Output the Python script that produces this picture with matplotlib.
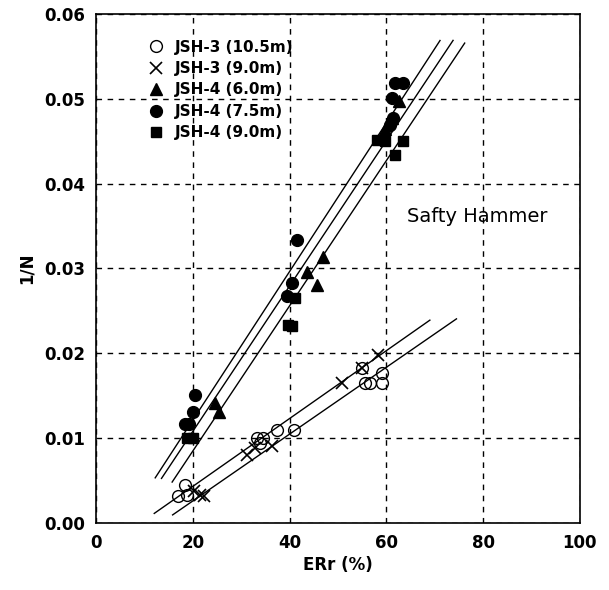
import matplotlib
matplotlib.use('Agg')
import matplotlib.pyplot as plt
import numpy as np

# data
jsh3_105_x = [17.0, 18.4, 18.8, 33.2, 34.4, 33.8, 37.3, 40.8, 54.9, 55.6, 56.6, 59.0, 59.0]
jsh3_105_y = [0.0032, 0.0044, 0.0033, 0.0100, 0.0100, 0.0094, 0.0110, 0.0110, 0.0182, 0.0165, 0.0165, 0.0177, 0.0165]

jsh3_90_x = [20.3, 21.5, 22.3, 31.1, 32.9, 36.3, 50.8, 54.9, 58.3]
jsh3_90_y = [0.0038, 0.0033, 0.0032, 0.0080, 0.0088, 0.0091, 0.0165, 0.0182, 0.0198]

jsh4_60_x = [24.6, 25.3, 43.5, 45.6, 47.0, 59.8, 61.2, 62.6]
jsh4_60_y = [0.0141, 0.0131, 0.0296, 0.0281, 0.0314, 0.0465, 0.0478, 0.0498]

jsh4_75_x = [18.4, 19.1, 20.1, 20.5, 39.4, 40.4, 41.5, 60.7, 61.4, 61.1, 61.8, 63.5]
jsh4_75_y = [0.0116, 0.0116, 0.0131, 0.0151, 0.0267, 0.0283, 0.0334, 0.0469, 0.0477, 0.0501, 0.0519, 0.0519]

jsh4_90_x = [18.7, 20.1, 41.1, 39.6, 40.4, 58.0, 59.7, 63.5, 61.8]
jsh4_90_y = [0.0100, 0.0100, 0.0265, 0.0233, 0.0232, 0.0452, 0.0450, 0.0450, 0.0434]

labels = ['JSH-3 (10.5m)', 'JSH-3 (9.0m)', 'JSH-4 (6.0m)', 'JSH-4 (7.5m)', 'JSH-4 (9.0m)']

# regression lines: slope, intercept, x start, x end
fit_slope = [0.000400, 0.000394, 0.000876, 0.000857, 0.000856]
fit_icpt = [-0.0037, -0.0053, -0.00539, -0.00634, -0.00864]
fit_x0 = [12.0, 15.8, 12.2, 13.5, 15.7]
fit_x1 = [69.0, 74.5, 71.1, 73.8, 76.2]

fig = plt.figure(figsize=(6.09, 5.90), dpi=100)
ax = fig.add_axes([0.158, 0.114, 0.794, 0.862])

for i in range(len(fit_slope)):
    xs = np.array([fit_x0[i], fit_x1[i]])
    ax.plot(xs, fit_slope[i] * xs + fit_icpt[i], '-', color='black', lw=1.0, zorder=2)

ms = 8.5
ax.plot(jsh3_105_x, jsh3_105_y, 'o', ms=ms, mfc='none', mec='black', mew=1.0, label=labels[0], zorder=3)
ax.plot(jsh3_90_x, jsh3_90_y, 'x', ms=ms, mec='black', mew=1.2, label=labels[1], zorder=3)
ax.plot(jsh4_60_x, jsh4_60_y, '^', ms=ms, color='black', label=labels[2], zorder=3)
ax.plot(jsh4_75_x, jsh4_75_y, 'o', ms=ms, color='black', label=labels[3], zorder=3)
ax.plot(jsh4_90_x, jsh4_90_y, 's', ms=ms - 1, color='black', label=labels[4], zorder=3)

ax.set_xlim(0, 100)
ax.set_ylim(0, 0.06)
ax.set_xticks([0, 20, 40, 60, 80, 100])
ax.set_yticks([0, 0.01, 0.02, 0.03, 0.04, 0.05, 0.06])
ax.set_yticklabels(['0.00', '0.01', '0.02', '0.03', '0.04', '0.05', '0.06'])
ax.tick_params(length=0, labelsize=12, pad=8)
for t in ax.get_xticklabels() + ax.get_yticklabels():
    t.set_fontweight('bold')

ax.grid(True, color='black', linestyle=(0, (4, 4)), lw=1.0)
ax.set_axisbelow(True)
for s in ax.spines.values():
    s.set_color('black')
    s.set_linewidth(1.2)

ax.set_xlabel('ERr (%)', fontsize=12, fontweight='bold', labelpad=3)
ax.set_ylabel('1/N', fontsize=12, fontweight='bold', labelpad=6)

ax.text(64.2, 0.0355, 'Safty Hammer', fontsize=14)

leg = ax.legend(loc='upper left', bbox_to_anchor=(0.08, 0.977), frameon=False,
                fontsize=11, handletextpad=0.7, labelspacing=0.42, handlelength=1.0)
for t in leg.get_texts():
    t.set_fontweight('bold')

fig.savefig('out.png', dpi=100)
